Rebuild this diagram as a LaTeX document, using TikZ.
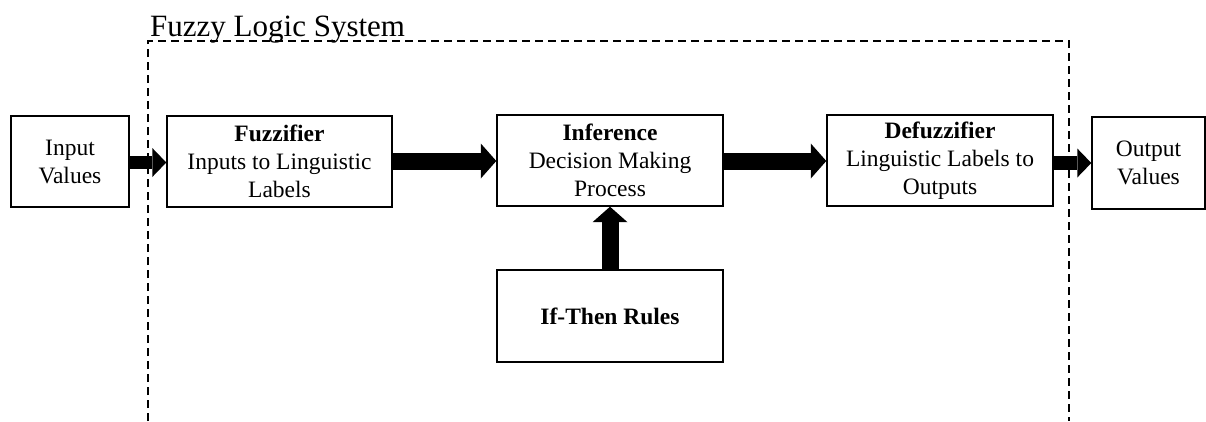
\documentclass[tikz,border=0pt]{standalone}
\usepackage{fontspec}
\setmainfont{Liberation Serif}
\usetikzlibrary{arrows.meta}
\tikzset{
  box/.style={draw, line width=1.4pt, fill=white, align=center, inner sep=0pt,
    font=\fontsize{23.5}{28}\selectfont},
  bigarrow/.style={line width=17pt, -{Triangle[length=15.5pt, width=35pt, line width=0pt]}},
  smallarrow/.style={line width=13.5pt, -{Triangle[length=14pt, width=29pt, line width=0pt]}},
  sysframe/.style={dashed, line width=1.3pt, dash pattern=on 8pt off 5pt},
}
\begin{document}
\begin{tikzpicture}[x=1pt, y=-1pt]
\useasboundingbox (0,0) rectangle (1206,421);
% dashed system frame
\coordinate (fl) at (148,421);
\coordinate (ftl) at (148,41);
\coordinate (ftr) at (1069,41);
\coordinate (fr) at (1069,421);
\draw[sysframe] (fl) -- (ftl) -- (ftr) -- (fr);
\node[anchor=base west, inner sep=0pt, font=\fontsize{31}{34}\selectfont] (title) at (150,36) {Fuzzy Logic System};
% boxes
\node[box, minimum width=118pt, minimum height=91pt] (in) at (70,161.5) {Input\\Values};
\node[box, minimum width=225pt, minimum height=91pt] (fuz) at (279.5,161.5) {\textbf{Fuzzifier}\\Inputs to Linguistic\\Labels};
\node[box, minimum width=226pt, minimum height=91pt] (inf) at (610,160.5) {\textbf{Inference}\\Decision Making\\Process};
\node[box, minimum width=226pt, minimum height=91pt] (def) at (940,160.5) {\textbf{Defuzzifier}\\Linguistic Labels to\\Outputs};
\node[box, minimum width=113pt, minimum height=92pt] (out) at (1148.5,163) {Output\\Values};
\node[box, minimum width=226pt, minimum height=92pt] (rules) at (610,316) {\textbf{If-Then Rules}};
% connectors
\draw[smallarrow] (in.east |- 0,162.5) -- (fuz.west |- 0,162.5);
\draw[bigarrow] (fuz.east |- 0,161) -- (inf.west |- 0,161);
\draw[bigarrow] (inf.east |- 0,161) -- (def.west |- 0,161);
\draw[smallarrow] (def.east |- 0,163) -- (out.west |- 0,163);
\draw[bigarrow] (rules.north -| 610,0) -- (inf.south -| 610,0);
\end{tikzpicture}
\end{document}
